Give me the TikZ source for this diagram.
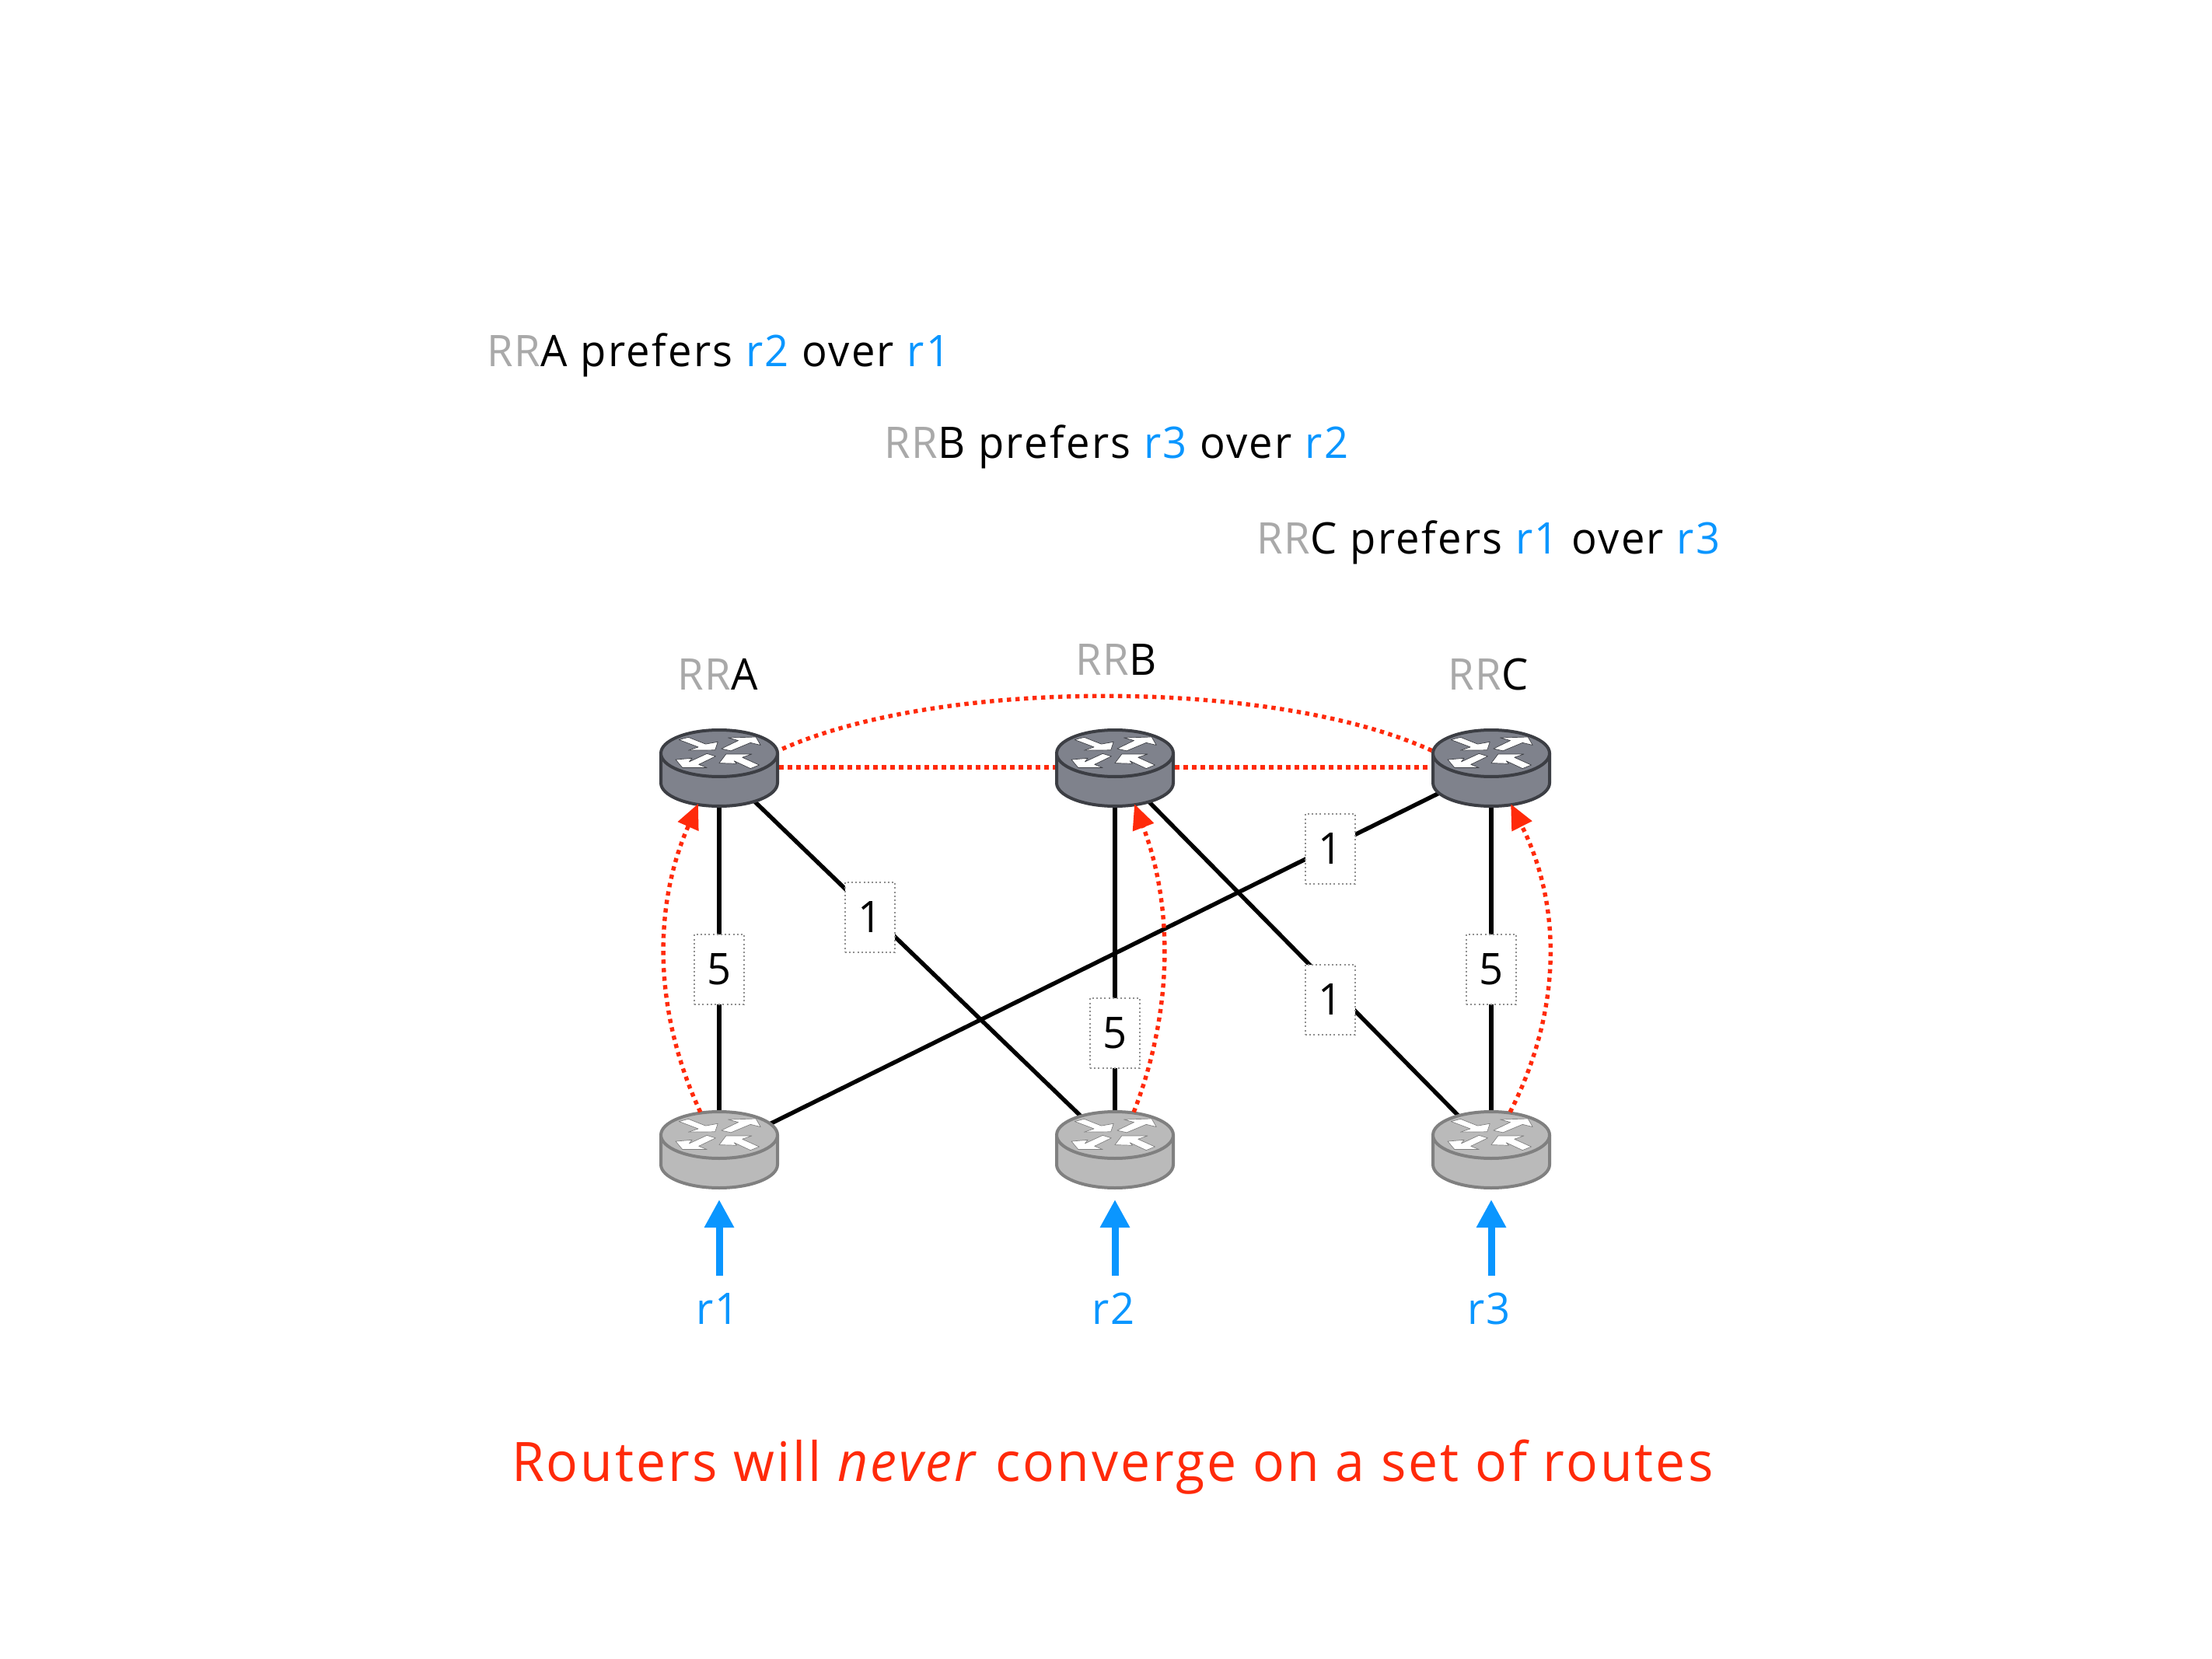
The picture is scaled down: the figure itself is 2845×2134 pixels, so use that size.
\documentclass[tikz,border=0pt]{standalone}
\usepackage{fontspec}
\setmainfont[FakeStretch=0.97,LetterSpace=4.3]{Open Sans}
\usetikzlibrary{arrows.meta,shapes.geometric}
\definecolor{rrgray}{HTML}{A9A9A9}
\definecolor{prefblue}{HTML}{0A96FF}
\definecolor{sessred}{HTML}{FF2A0A}
\definecolor{darkfill}{HTML}{7F828C}
\definecolor{darkedge}{HTML}{3C3E44}
\definecolor{lightfill}{HTML}{BABABA}
\definecolor{lightedge}{HTML}{808080}
\definecolor{boxedge}{HTML}{909090}
\tikzset{
  routerbase/.style={shape=ellipse,minimum width=77pt,minimum height=50pt,inner sep=0pt,outer sep=0pt},
  txt/.style={anchor=base west,inner sep=0pt,outer sep=0pt,font=\fontsize{28}{34}\selectfont},
  headline/.style={anchor=base west,inner sep=0pt,outer sep=0pt,text=sessred,font=\fontsize{35}{42}\selectfont},
  link/.style={draw=black,line width=2.7pt},
  session/.style={draw=sessred,line width=2.7pt,dash pattern=on 2.9pt off 2.6pt},
  advert/.style={draw=sessred,line width=2.7pt,dash pattern=on 2.7pt off 2.8pt,-{Triangle[length=16pt,width=14pt,fill=sessred]}},
  inject/.style={draw=prefblue,line width=4.5pt,-{Triangle[length=18pt,width=18pt,fill=prefblue]}},
  cost/.style={draw=boxedge,fill=white,line width=1pt,dash pattern=on 1pt off 1.6pt,minimum width=32pt,minimum height=45pt,
    inner sep=0pt,font=\fontsize{28}{34}\selectfont},
}
% Router drawing: cylinder with four crossing arrows on its lid
\newcommand{\routerglyph}[3]{%
  \begin{scope}[shift={(#1)}]
    \draw[fill=#2,draw=#3,line width=2pt,line join=round]
      (-75,-18) -- (-75,20) arc[start angle=180,end angle=360,x radius=37.5pt,y radius=15pt] -- (75,-18);
    \draw[fill=#2,draw=#3,line width=2pt] (0,-18) ellipse[x radius=37.5pt,y radius=15pt];
    \begin{scope}[shift={(0,-18)},x=0.175pt,y=-0.175pt,fill=white,draw=#3,line width=0.35pt,line join=round]
      \filldraw (-148,-50) -- (-113,-59) -- (-50,-34) -- (-5,-42) -- (-15,-12) -- (-113,-11) -- (-77,-23) -- cycle;
      \filldraw (8,-17) -- (70,-47) -- (33,-57) -- (135,-60) -- (152,-30) -- (115,-39) -- (43,-9) -- cycle;
      \filldraw (-160,23) -- (-100,18) -- (-110,31) -- (-45,1) -- (-13,11) -- (-75,41) -- (-45,53) -- (-135,53) -- cycle;
      \filldraw (0,36) -- (25,3) -- (120,3) -- (85,15) -- (147,43) -- (115,56) -- (55,28) -- (65,38) -- cycle;
    \end{scope}
  \end{scope}}
\begin{document}
\begin{tikzpicture}[x=0.5pt,y=-0.5pt]
  \useasboundingbox[fill=white] (0,0) rectangle (2845,2134);

  % Router anchors
  \node[routerbase] (rra) at (925,987) {};
  \node[routerbase] (rrb) at (1434,987) {};
  \node[routerbase] (rrc) at (1918,987) {};
  \node[routerbase] (e1) at (925,1478) {};
  \node[routerbase] (e2) at (1434,1478) {};
  \node[routerbase] (e3) at (1918,1478) {};

  % Physical links
  \draw[link] (rra.center) -- (e1.center);
  \draw[link] (rrb.center) -- (e2.center);
  \draw[link] (rrc.center) -- (e3.center);
  \draw[link] (rra.center) -- (e2.center);
  \draw[link] (rrb.center) -- (e3.center);
  \draw[link] (e1.center) -- (rrc.center);

  % iBGP sessions between reflectors
  \draw[session] (rra.center) -- (rrb.center);
  \draw[session] (rrb.center) -- (rrc.center);
  \draw[advert,-] (rra.15) .. controls (1200,871) and (1642,871) .. (rrc.165);

  % IGP costs
  \node[cost] (c1) at (925,1247) {5};
  \node[cost] (c2) at (1119,1180) {1};
  \node[cost] (c3) at (1434,1329) {5};
  \node[cost] (c4) at (1711,1092) {1};
  \node[cost] (c5) at (1711,1286) {1};
  \node[cost] (c6) at (1918,1247) {5};

  % Routers
  \routerglyph{rra}{darkfill}{darkedge}
  \routerglyph{rrb}{darkfill}{darkedge}
  \routerglyph{rrc}{darkfill}{darkedge}
  \routerglyph{e1}{lightfill}{lightedge}
  \routerglyph{e2}{lightfill}{lightedge}
  \routerglyph{e3}{lightfill}{lightedge}

  % Route advertisements up to the reflectors
  \draw[advert] (e1.117) .. controls (840,1300) and (840,1165) .. (rra.240);
  \draw[advert] (e2.63) .. controls (1509,1300) and (1509,1165) .. (rrb.298);
  \draw[advert] (e3.63) .. controls (2009,1300) and (2009,1165) .. (rrc.298);

  % Injected routes
  \coordinate (t1) at (925,1641); \coordinate (h1) at (925,1543);
  \coordinate (t2) at (1434,1641); \coordinate (h2) at (1434,1543);
  \coordinate (t3) at (1918,1641); \coordinate (h3) at (1918,1543);
  \draw[inject] (t1) -- (h1);
  \draw[inject] (t2) -- (h2);
  \draw[inject] (t3) -- (h3);
  \node[txt,text=prefblue] (r1) at (895,1703) {r1};
  \node[txt,text=prefblue] (r2) at (1404,1703) {r2};
  \node[txt,text=prefblue] (r3) at (1887,1703) {r3};

  % Reflector labels
  \node[txt] (la) at (871,887) {\textcolor{rrgray}{RR}A};
  \node[txt] (lb) at (1383,868) {\textcolor{rrgray}{RR}B};
  \node[txt] (lc) at (1862,887) {\textcolor{rrgray}{RR}C};

  % Preference statements
  \node[txt] (p1) at (626,472) {\textcolor{rrgray}{RR}A prefers \textcolor{prefblue}{r2} over \textcolor{prefblue}{r1}};
  \node[txt] (p2) at (1137,590) {\textcolor{rrgray}{RR}B prefers \textcolor{prefblue}{r3} over \textcolor{prefblue}{r2}};
  \node[txt] (p3) at (1616,713) {\textcolor{rrgray}{RR}C prefers \textcolor{prefblue}{r1} over \textcolor{prefblue}{r3}};

  % Conclusion
  \node[headline] (concl) at (658,1905) {Routers will \textit{never} converge on a set of routes};
\end{tikzpicture}
\end{document}
